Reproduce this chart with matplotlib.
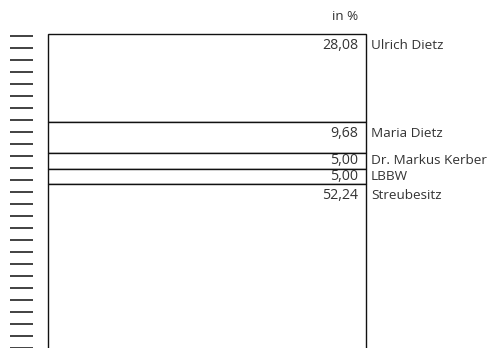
import matplotlib.pyplot as plt
import numpy as np

plt.rcParams['font.family'] = ['Open Sans', 'DejaVu Sans']

# Aktionärsstruktur
namen = ["Ulrich Dietz", "Maria Dietz", "Dr. Markus Kerber", "LBBW", "Streubesitz"]
anteile = [28.08, 9.68, 5.00, 5.00, 52.24]
einheit = "in %"

textfarbe = "#333333"
W, H = 492, 348

fig = plt.figure(figsize=(W / 100, H / 100), dpi=100)

# der eigentliche Balken (unten über den Bildrand hinaus)
ax = fig.add_axes([48 / W, -0.05, (366 - 48) / W, 1 - 34 / H + 0.05])
unten = np.concatenate([[0], np.cumsum(anteile)[:-1]])
balken = ax.bar(0, anteile, bottom=unten, width=1.0, color="white",
                edgecolor="#111111", linewidth=1.0)
for b in balken:
    b.set_clip_on(False)
ax.set_xlim(-0.5, 0.5)
ax.set_ylim(105.2, 0)
for s in ax.spines.values():
    s.set_visible(False)
ax.set_xticks([])
ax.set_yticks([])

for name, wert, start in zip(namen, anteile, unten):
    y = start + min(wert / 2, 3.6)
    ax.annotate(f"{wert:.2f}".replace(".", ","), xy=(1, y),
                xycoords=("axes fraction", "data"),
                xytext=(-8, 0), textcoords="offset pixels",
                ha="right", va="center", fontsize=10.2, color=textfarbe)
    ax.annotate(name, xy=(1, y), xycoords=("axes fraction", "data"),
                xytext=(5, 0), textcoords="offset pixels",
                ha="left", va="center", fontsize=9.7, color=textfarbe,
                annotation_clip=False)

# "in %" oben rechts
fig.text(358 / W, 1 - 17 / H, einheit, ha="right", va="center",
         fontsize=9.7, color=textfarbe)

# Striche am linken Rand
deko = fig.add_axes([10 / W, 0, 23 / W, 1])
deko.set_xlim(0, 1)
deko.set_ylim(H, 0)
deko.hlines(np.arange(36, H + 1, 12), 0, 1, color="#333333", linewidth=1.3)
deko.axis("off")

fig.savefig("out.png", dpi=100)
